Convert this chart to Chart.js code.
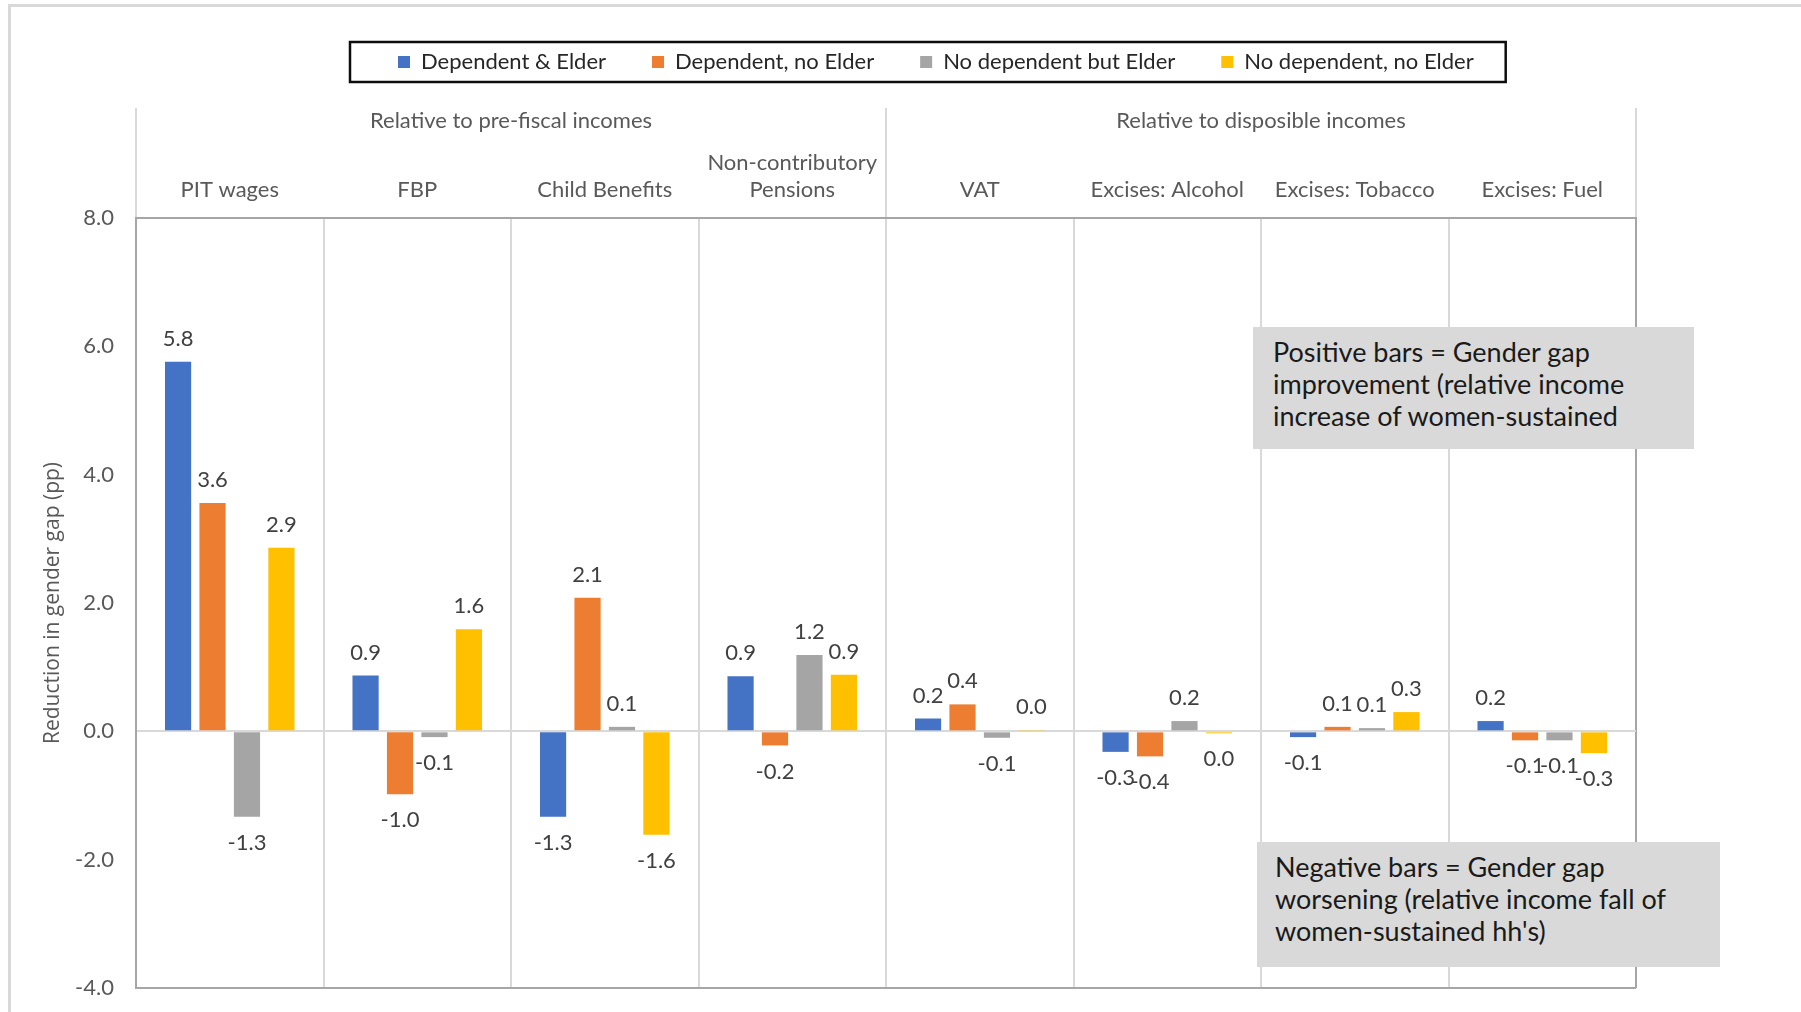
<!DOCTYPE html>
<html>
<head>
<meta charset="utf-8">
<script src="https://cdn.jsdelivr.net/npm/chart.js@4.4.1/dist/chart.umd.min.js"></script>
<style>
  html, body { margin: 0; padding: 0; background: #fff; }
  #wrap { position: relative; width: 1801px; height: 1012px; overflow: hidden; }
  #frame { position: absolute; left: 8px; top: 4px; width: 1900px; height: 1100px;
           border-top: 3px solid #d9d9d9; border-left: 3px solid #d9d9d9; }
  .note { position: absolute; background: #d9d9d9; color: #1a1a1a;
          font-family: Lato, sans-serif; font-size: 27px; line-height: 32px;
          box-sizing: border-box; white-space: nowrap; }
  #notePos { left: 1253px; top: 327px; width: 441px; height: 122px; padding: 9px 0 0 20px; }
  #noteNeg { left: 1257px; top: 842px; width: 463px; height: 125px; padding: 9px 0 0 18px; }
</style>
</head>
<body>
<div id="wrap">
  <div id="frame"></div>
  <canvas id="GapChart"></canvas>
  <div class="note" id="notePos">Positive bars = Gender gap<br>improvement (relative income<br>increase of women-sustained</div>
  <div class="note" id="noteNeg">Negative bars = Gender gap<br>worsening (relative income fall of<br>women-sustained hh's)</div>
</div>
<script>
const categories = ['PIT wages', 'FBP', 'Child Benefits', ['Non-contributory', 'Pensions'],
  'VAT', 'Excises: Alcohol', 'Excises: Tobacco', 'Excises: Fuel'];
const groups = ['Relative to pre-fiscal incomes', 'Relative to disposible incomes'];

const depElder     = [5.76, 0.87, -1.33, 0.86, 0.20, -0.32, -0.09, 0.16];
const depNoElder   = [3.56, -0.98, 2.08, -0.22, 0.42, -0.39, 0.07, -0.14];
const noDepElder   = [-1.33, -0.09, 0.07, 1.19, -0.10, 0.16, 0.05, -0.14];
const noDepNoElder = [2.86, 1.59, -1.61, 0.88, 0.02, -0.03, 0.30, -0.34];

const yTicks = { min: -4, max: 8, step: 2 };

const FONT = 'Lato, sans-serif';

// value labels above / below each bar
const barLabels = {
  id: 'barLabels',
  afterDatasetsDraw(chart) {
    const ctx = chart.ctx;
    ctx.save();
    ctx.font = '22px ' + FONT;
    ctx.fillStyle = '#404040';
    ctx.textAlign = 'center';
    ctx.textBaseline = 'middle';
    chart.data.datasets.forEach((ds, i) => {
      chart.getDatasetMeta(i).data.forEach((bar, j) => {
        const v = ds.data[j];
        const txt = (Math.round(v * 10) / 10).toFixed(1);
        const y = v >= 0 ? bar.y - 23 : bar.y + 26;
        ctx.fillText(txt, bar.x, y);
      });
    });
    ctx.restore();
  }
};

// move the legend row and put a frame round it
const legendFrame = {
  id: 'legendFrame',
  afterLayout(chart) {
    const lg = chart.legend;
    const pad = lg.options.labels.padding;
    const startX = (lg.left + pad + lg.right - lg.lineWidths[0]) / 2;
    const dx = 398 - startX;
    lg.left += dx;
    lg.right += dx;
    const dy = 62 - (lg.top + pad + lg.options.labels.font.size / 2);
    lg.top += dy;
    lg.bottom += dy;
  },
  afterDraw(chart) {
    const lg = chart.legend;
    const pad = lg.options.labels.padding;
    const startX = (lg.left + pad + lg.right - lg.lineWidths[0]) / 2;
    const endX = startX + lg.lineWidths[0] - pad;
    const ctx = chart.ctx;
    ctx.save();
    ctx.strokeStyle = '#0d0d0d';
    ctx.lineWidth = 2.5;
    ctx.strokeRect(startX - 48, 42, endX - startX + 80, 40);
    ctx.restore();
  }
};

const datas = {
  labels: categories,
  datasets: [
    { label: 'Dependent & Elder', data: depElder, backgroundColor: '#4472c4' },
    { label: 'Dependent, no Elder', data: depNoElder, backgroundColor: '#ed7d31' },
    { label: 'No dependent but Elder', data: noDepElder, backgroundColor: '#a5a5a5' },
    { label: 'No dependent, no Elder', data: noDepNoElder, backgroundColor: '#ffc000' },
  ]
};

const edge = (ctx) => ctx.index === undefined || ctx.index === 0;

let GapChart = document.getElementById('GapChart').getContext('2d');

const GapChartv = new Chart(GapChart, {
  type: 'bar',
  data: datas,
  plugins: [barLabels, legendFrame],
  options: {
    responsive: true,
    maintainAspectRatio: false,
    animation: false,
    datasets: {
      bar: { categoryPercentage: 0.735, barPercentage: 0.76 }
    },
    layout: { padding: { left: 0, right: 165, top: 0, bottom: 24 } },
    plugins: {
      tooltip: { enabled: false },
      legend: {
        position: 'top',
        maxHeight: 80,
        labels: {
          boxWidth: 12,
          boxHeight: 12,
          padding: 46,
          color: '#262626',
          font: { family: FONT, size: 22 },
        },
      },
    },
    scales: {
      x: {
        position: 'top',
        weight: 0,
        afterFit: (s) => { s.height = 80; },
        grid: {
          offset: true,
          lineWidth: 2,
          tickWidth: 2,
          tickLength: 110,
          color: (ctx) => edge(ctx) ? '#a6a6a6' : '#d9d9d9',
          tickColor: (ctx) => (edge(ctx) || ctx.index === 4) ? '#d9d9d9' : 'rgba(0,0,0,0)',
        },
        border: { display: true, color: '#a6a6a6', width: 2 },
        ticks: {
          padding: -96,
          maxRotation: 0,
          autoSkip: false,
          color: '#595959',
          font: { family: FONT, size: 22, lineHeight: 1.25 },
        },
      },
      x2: {
        type: 'category',
        labels: groups,
        position: 'top',
        weight: 1,
        offset: true,
        afterFit: (s) => { s.height = 60; },
        grid: { display: false, drawTicks: false },
        border: { display: false },
        ticks: {
          padding: 3,
          maxRotation: 0,
          color: '#595959',
          font: { family: FONT, size: 22, lineHeight: 1.3 },
        },
      },
      y: {
        min: yTicks.min,
        max: yTicks.max,
        afterFit: (s) => { s.width = 136; s.paddingTop = 0; s.paddingBottom = 0; },
        grid: {
          lineWidth: 2,
          drawTicks: false,
          color: (ctx) => {
            if (ctx.tick.value === 0) return '#d9d9d9';
            if (ctx.tick.value === yTicks.min) return '#a6a6a6';
            return 'rgba(0,0,0,0)';
          },
        },
        border: { display: true, color: '#a6a6a6', width: 2 },
        ticks: {
          stepSize: yTicks.step,
          padding: 22,
          color: '#595959',
          font: { family: FONT, size: 22 },
          callback: function (value) {
            return value.toFixed(1);
          },
        },
        title: {
          display: true,
          text: 'Reduction in gender gap (pp)',
          color: '#595959',
          padding: { top: 40, bottom: 0 },
          font: { family: '"Open Sans", sans-serif', size: 21 },
        },
      },
    },
  },
});
</script>
</body>
</html>
